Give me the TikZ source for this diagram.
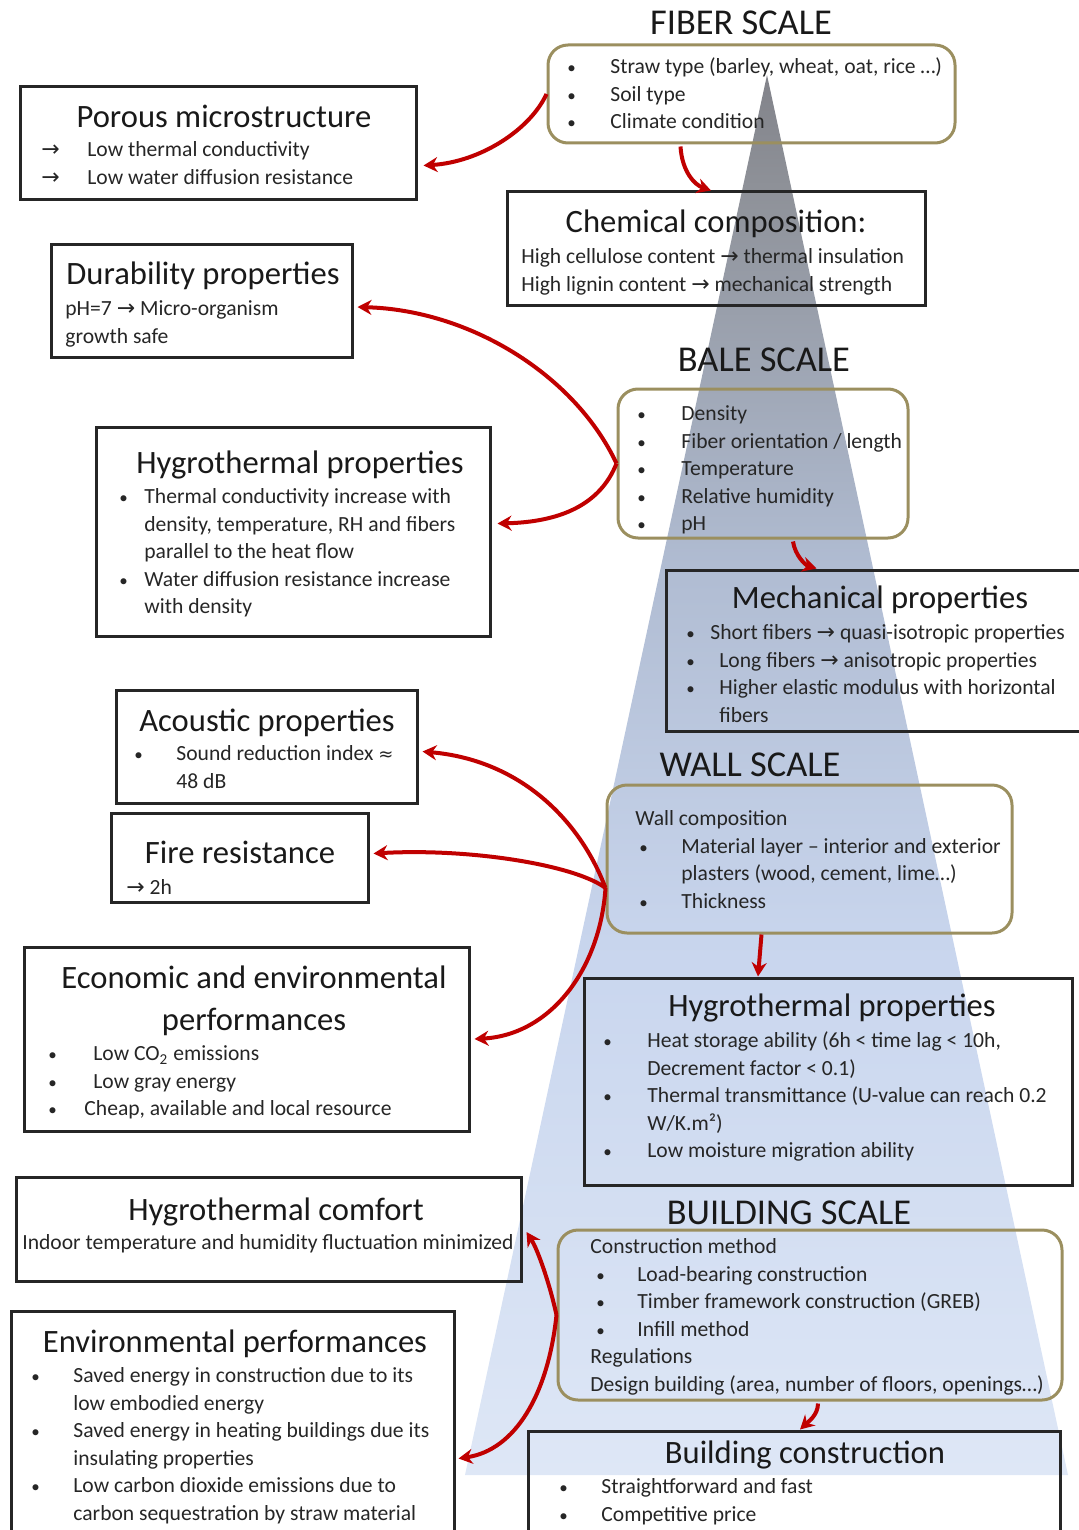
\documentclass[tikz,border=0pt]{standalone}
\usepackage{fontspec}
\setmainfont{Carlito}
\newfontfamily\symfont{DejaVu Sans}
\usetikzlibrary{arrows.meta,calc,fit}

\definecolor{boxolive}{RGB}{155,143,95}
\definecolor{linkred}{RGB}{192,0,0}
\definecolor{bodytext}{RGB}{38,38,38}
% colour stops of the cone, from apex to base
\definecolor{coneA}{RGB}{130,131,138}
\definecolor{coneB}{RGB}{142,145,152}
\definecolor{coneC}{RGB}{176,188,210}
\definecolor{coneD}{RGB}{201,214,238}
\definecolor{coneE}{RGB}{222,231,246}
\pgfdeclareverticalshading{cone}{100bp}{%
  color(0bp)=(coneE); color(25bp)=(coneE); color(43.5bp)=(coneD);
  color(57.5bp)=(coneC); color(71bp)=(coneB); color(75bp)=(coneA);
  color(100bp)=(coneA)}

\newcommand{\ra}{{\symfont\fontsize{11}{12}\selectfont →}}
\newcommand{\approxsym}{{\symfont\fontsize{9}{12}\selectfont ≈}}
\newcommand{\bul}{{\fontsize{8.5}{8}\selectfont •}}

\tikzset{
  plainbox/.style={draw=black!85, line width=1.5pt, inner sep=0pt},
  scalebox/.style={draw=boxolive, line width=1.5pt, rounded corners=10pt, inner sep=0pt},
  boxtitle/.style={anchor=mid, inner sep=0pt, yshift=-3.5pt, font=\fontsize{16.3}{19}\selectfont, text=black!90},
  scaletitle/.style={anchor=mid, inner sep=0pt, yshift=-3.5pt, font=\fontsize{18.2}{22}\selectfont, text=black!90},
  body/.style={anchor=mid west, inner sep=0pt, yshift=-1.5pt, font=\fontsize{10.8}{13.75}\selectfont, text=bodytext},
  link/.style={draw=linkred, line width=2pt, -{Stealth[length=7pt,width=7.5pt]}},
}

\begin{document}
\begin{tikzpicture}[x=0.5pt, y=-0.5pt]
\useasboundingbox (0,0) rectangle (1078,1530);

% shaded cone running from fiber scale down to building scale
\shade[shading=cone] (767,75) -- (1068,1475) -- (465,1475) -- cycle;

% ---------- scale headings ----------
\node[scaletitle] (fiberscale) at (741,23) {FIBER SCALE};
\node[scaletitle] (balescale) at (764,360) {BALE SCALE};
\node[scaletitle] (wallscale) at (750,765) {WALL SCALE};
\node[scaletitle] (buildscale) at (789,1213) {BUILDING SCALE};

% ---------- fiber scale ----------
\node[scalebox, fit={(548,45) (955,143)}] (fiber) {};
\node[body] (fibertxt) at (567,66) {\begin{tabular}[t]{@{}p{21.5pt}@{}l@{}}
\bul&Straw type (barley, wheat, oat, rice …)\\
\bul&Soil type\\
\bul&Climate condition\end{tabular}};

\node[plainbox, fit={(20,87) (416,200)}] (porous) {};
\node[boxtitle] (poroustitle) at (224,116) {Porous microstructure};
\node[body] (poroustxt) at (41,149) {\begin{tabular}[t]{@{}p{23pt}@{}l@{}}
\ra&Low thermal conductivity\\[0.25pt]
\ra&Low water diffusion resistance\end{tabular}};

\node[plainbox, fit={(507,192) (925,305)}] (chem) {};
\node[boxtitle] (chemtitle) at (716,221) {Chemical composition:};
\node[body] (chemtxt) at (521,256) {\begin{tabular}[t]{@{}l@{}}
High cellulose content \ra{} thermal insulation\\
High lignin content \ra{} mechanical strength\end{tabular}};

\node[plainbox, fit={(51,245) (352,357)}] (dur) {};
\node[boxtitle] (durtitle) at (203,273) {Durability properties};
\node[body] (durtxt) at (65,308) {\begin{tabular}[t]{@{}l@{}}
pH=7 \ra{} Micro-organism\\
growth safe\end{tabular}};

% ---------- bale scale ----------
\node[scalebox, fit={(618,389) (908,538)}] (bale) {};
\node[body] (baletxt) at (637,413) {\begin{tabular}[t]{@{}p{22pt}@{}l@{}}
\bul&Density\\
\bul&Fiber orientation / length\\
\bul&Temperature\\
\bul&Relative humidity\\
\bul&pH\end{tabular}};

\node[plainbox, fit={(96,427) (490,636)}] (hygL) {};
\node[boxtitle] (hygLtitle) at (300,462) {Hygrothermal properties};
\node[body] (hygLtxt) at (119,496) {\begin{tabular}[t]{@{}p{12.5pt}@{}l@{}}
\bul&Thermal conductivity increase with\\
&density, temperature, RH and fibers\\
&parallel to the heat flow\\
\bul&Water diffusion resistance increase\\
&with density\end{tabular}};

\node[plainbox, fit={(666,570) (1090,731)}] (mech) {};
\node[boxtitle] (mechtitle) at (880,597) {Mechanical properties};
\node[body] (mechtxt) at (686,632) {\begin{tabular}[t]{@{}p{16.5pt}@{}l@{}}
\bul&\hspace{-4.5pt}Short fibers \ra{} quasi-isotropic properties\\
\bul&Long fibers \ra{} anisotropic properties\\
\bul&Higher elastic modulus with horizontal\\
&fibers\end{tabular}};

% ---------- wall scale ----------
\node[plainbox, fit={(116,690) (417,803)}] (acou) {};
\node[boxtitle] (acoutitle) at (267,720) {Acoustic properties};
\node[body] (acoutxt) at (134,753) {\begin{tabular}[t]{@{}p{21pt}@{}l@{}}
\bul&Sound reduction index \approxsym\\
&48 dB\end{tabular}};

\node[scalebox, fit={(607,785) (1012,933)}] (wall) {};
\node[body] (walltxt) at (635,818) {\begin{tabular}[t]{@{}p{23pt}@{}l@{}}
\multicolumn{2}{@{}l@{}}{Wall composition}\\
\hspace{2pt}\bul&Material layer – interior and exterior\\
&plasters (wood, cement, lime…)\\
\hspace{2pt}\bul&Thickness\end{tabular}};

\node[plainbox, fit={(111,813) (368,902)}] (fire) {};
\node[boxtitle] (firetitle) at (240,852) {Fire resistance};
\node[body] (firetxt) at (126,887) {\ra{} 2h};

\node[plainbox, fit={(24,947) (469,1131)}] (eco) {};
\node[boxtitle] (ecotitle1) at (254,977) {Economic and environmental};
\node[boxtitle] (ecotitle2) at (254,1019) {performances};
\node[body] (ecotxt) at (48,1053) {\begin{tabular}[t]{@{}p{22.5pt}@{}l@{}}
\bul&Low CO\textsubscript{2} emissions\\
\bul&Low gray energy\\
\bul&\hspace{-4.5pt}Cheap, available and local resource\end{tabular}};

\node[plainbox, fit={(584,978) (1072,1185)}] (hygR) {};
\node[boxtitle] (hygRtitle) at (832,1005) {Hygrothermal properties};
\node[body] (hygRtxt) at (603,1040) {\begin{tabular}[t]{@{}p{22pt}@{}l@{}}
\bul&Heat storage ability (6h < time lag < 10h,\\
&Decrement factor < 0.1)\\
\bul&Thermal transmittance (U-value can reach 0.2\\
&W/K.m²)\\
\bul&Low moisture migration ability\end{tabular}};

% ---------- building scale ----------
\node[plainbox, fit={(16,1177) (521,1281)}] (comfort) {};
\node[boxtitle] (comforttitle) at (276,1209) {Hygrothermal comfort};
\node[body, anchor=mid] (comforttxt) at (268,1242) {Indoor temperature and humidity fluctuation minimized};

\node[scalebox, fit={(558,1230) (1062,1400)}] (bldg) {};
\node[body] (bldgtxt) at (590,1246) {\begin{tabular}[t]{@{}p{23.5pt}@{}l@{}}
\multicolumn{2}{@{}l@{}}{Construction method}\\
\hspace{3pt}\bul&Load-bearing construction\\
\hspace{3pt}\bul&Timber framework construction (GREB)\\
\hspace{3pt}\bul&Infill method\\
\multicolumn{2}{@{}l@{}}{Regulations}\\
\multicolumn{2}{@{}l@{}}{Design building (area, number of floors, openings…)}\end{tabular}};

\node[plainbox, fit={(11,1311) (454,1545)}] (env) {};
\node[boxtitle] (envtitle) at (235,1341) {Environmental performances};
\node[body] (envtxt) at (31,1375) {\begin{tabular}[t]{@{}p{21pt}@{}l@{}}
\bul&Saved energy in construction due to its\\
&low embodied energy\\
\bul&Saved energy in heating buildings due its\\
&insulating properties\\
\bul&Low carbon dioxide emissions due to\\
&carbon sequestration by straw material\end{tabular}};

\node[plainbox, fit={(528,1431) (1060,1545)}] (bconst) {};
\node[boxtitle] (bconsttitle) at (805,1452) {Building construction};
\node[body] (bconsttxt) at (559,1486) {\begin{tabular}[t]{@{}p{21pt}@{}l@{}}
\bul&Straightforward and fast\\
\bul&Competitive price\end{tabular}};

% ---------- connectors ----------
\draw[link] (fiber.west) .. controls (530,130) and (480,162) .. ($(porous.east)+(6,22)$);
\draw[link] ($(fiber.south)+(-71,2)$) .. controls (682,172) and (695,185) .. ($(chem.north)+(-5,0)$);

\draw[link] (bale.west) .. controls (575,375) and (470,310) .. ($(dur.east)+(4,6)$);
\draw[link] (bale.west) .. controls (600,505) and (560,522) .. ($(hygL.east)+(6,-8)$);
\draw[link] ($(bale.south)+(30,2)$) .. controls (795,555) and (805,565) .. ($(mech.north west)+(152,0)$);

\draw[link] ($(wall.west)+(0,29)$) .. controls (580,820) and (520,760) .. ($(acou.east)+(4,5)$);
\draw[link] ($(wall.west)+(0,29)$) .. controls (575,865) and (470,848) .. ($(fire.east)+(4,-4)$);
\draw[link] ($(wall.west)+(0,29)$) .. controls (600,970) and (550,1035) .. ($(eco.east)+(4,0)$);
\draw[link] ($(wall.south)+(-48,0)$) -- ($(hygR.north)+(-70,0)$);

\draw[link] (bldg.west) .. controls (550,1285) and (538,1250) .. ($(comfort.east)+(4,3)$);
\draw[link] (bldg.west) .. controls (548,1395) and (515,1450) .. ($(env.north east)+(3,149)$);
\draw[link] ($(bldg.south)+(8,2)$) .. controls (818,1415) and (808,1422) .. ($(bconst.north)+(6,0)$);
\end{tikzpicture}
\end{document}
